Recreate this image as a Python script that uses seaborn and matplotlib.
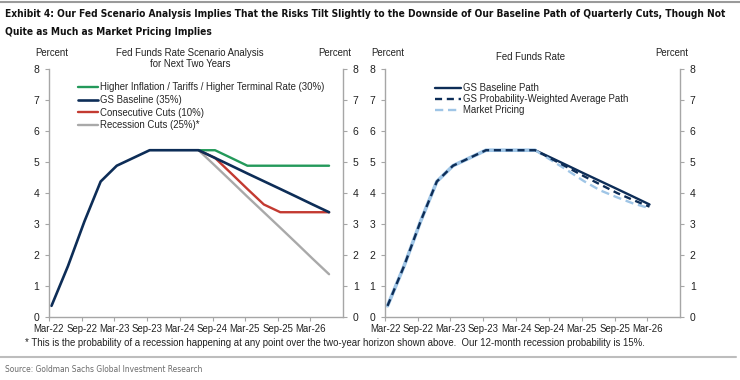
import numpy as np
import pandas as pd
import matplotlib
matplotlib.use("Agg")
import matplotlib.pyplot as plt
import matplotlib.font_manager as fm
import seaborn as sns

# ---------------- data ----------------
quarters = ['Mar-22', 'Jun-22', 'Sep-22', 'Dec-22', 'Mar-23', 'Jun-23', 'Sep-23', 'Dec-23',
            'Mar-24', 'Jun-24', 'Sep-24', 'Dec-24', 'Mar-25', 'Jun-25', 'Sep-25', 'Dec-25',
            'Mar-26', 'Jun-26']
history = [0.36, 1.64, 3.08, 4.37, 4.88, 5.13, 5.38, 5.38, 5.38, 5.38]

# left panel scenarios (start at Jun-24)
higher_inflation = [5.38, 5.38, 5.13, 4.88, 4.88, 4.88, 4.88, 4.88, 4.88]
gs_baseline      = [5.38, 5.13, 4.88, 4.63, 4.38, 4.13, 3.88, 3.63, 3.38]
consecutive_cuts = [5.38, 5.13, 4.63, 4.13, 3.63, 3.38, 3.38, 3.38, 3.38]
recession_cuts   = [5.38, 4.88, 4.38, 3.88, 3.38, 2.88, 2.38, 1.88, 1.38]

# right panel forward paths (Sep-24 .. Mar-26)
baseline_path = [5.13, 4.88, 4.63, 4.38, 4.13, 3.88, 3.63]
weighted_path = [5.10, 4.82, 4.54, 4.27, 4.00, 3.77, 3.56]
market_path   = [5.05, 4.72, 4.38, 4.08, 3.86, 3.66, 3.51]

left_labels = ['Higher Inflation / Tariffs / Higher Terminal Rate (30%)', 'GS Baseline (35%)',
               'Consecutive Cuts (10%)', 'Recession Cuts (25%)*']
right_labels = ['GS Baseline Path', 'GS Probability-Weighted Average Path', 'Market Pricing']
tick_labels = ['Mar-22', 'Sep-22', 'Mar-23', 'Sep-23', 'Mar-24', 'Sep-24', 'Mar-25', 'Sep-25', 'Mar-26']
y_ticks = [0, 1, 2, 3, 4, 5, 6, 7, 8]

# ---------------- style ----------------
sns.set_theme(style="white")
plt.rcParams['font.family'] = ['Liberation Sans', 'DejaVu Sans']
FS = 6.9
GREEN = '#23995a'
NAVY = '#0d2d57'
RED = '#c33a31'
GRAY = '#a9a9a9'
LBLUE = '#9fc5e6'
AXC = '#a6a6a6'


def is_cond(f):
    nm = f.name
    return (('Narrow' in nm or 'Condensed' in nm or f.stretch in ('condensed', 'semi-condensed'))
            and 'Mono' not in nm and 'Serif' not in nm)


def upright(f):
    fn = f.fname.lower()
    return f.style == 'normal' and 'italic' not in fn and 'oblique' not in fn


def wnum(w):
    if isinstance(w, int):
        return w
    return {'bold': 700, 'normal': 400, 'regular': 400, 'light': 300, 'medium': 500,
            'semibold': 600, 'demibold': 600, 'heavy': 800, 'black': 900}.get(str(w).lower(), 400)


cands = sorted([f for f in fm.fontManager.ttflist if is_cond(f) and upright(f)], key=lambda f: f.fname)
bold_c = [f for f in cands if wnum(f.weight) >= 700]
reg_c = [f for f in cands if 300 <= wnum(f.weight) < 600]
title_prop = fm.FontProperties(fname=bold_c[0].fname) if bold_c else None
src_prop = fm.FontProperties(fname=reg_c[0].fname) if reg_c else None

W, H = 740, 380
fig = plt.figure(figsize=(W / 100, H / 100), dpi=100)


def fx(x):
    return x / W


def fy(y):
    return 1 - y / H


dates = pd.to_datetime(['15-' + q for q in quarters], format='%d-%b-%y')
tick_dates = pd.to_datetime(['01-' + t for t in tick_labels], format='%d-%b-%y')
x0 = pd.Timestamp('2022-03-01')
x1 = pd.Timestamp('2026-09-01')


def make_ax(left_px, right_px):
    return fig.add_axes([fx(left_px), fy(317), (right_px - left_px) / W, (317 - 69) / H])


def style_ax(ax):
    ax.set_xlim(x0, x1)
    ax.set_ylim(0, 8)
    ax.set_yticks(y_ticks)
    ax.set_xticks(tick_dates)
    ax.set_xticklabels(tick_labels, fontsize=FS, color='#222222')
    ax.tick_params(axis='x', length=3, color=AXC, width=0.8, pad=2, direction='out', bottom=True)
    ax.tick_params(axis='y', length=3, color=AXC, width=0.8, pad=4, labelsize=FS + 0.6,
                   labelcolor='#222222', left=True, right=True, labelleft=True, labelright=True,
                   direction='out')
    for s in ['left', 'right', 'bottom']:
        ax.spines[s].set_color(AXC)
        ax.spines[s].set_linewidth(1.0)
    ax.spines['top'].set_visible(False)
    ax.set_xlabel('')
    ax.set_ylabel('')
    ax.grid(False)


# ---------------- left panel ----------------
axL = make_ax(49, 343)
n_hist = len(history)
scen_dates = dates[n_hist - 1:n_hist - 1 + len(gs_baseline)]
base_full = history[:-1] + gs_baseline

lw = 1.7
sns.lineplot(x=scen_dates, y=recession_cuts, ax=axL, color=GRAY, lw=lw, label=left_labels[3])
sns.lineplot(x=scen_dates, y=consecutive_cuts, ax=axL, color=RED, lw=lw, label=left_labels[2])
sns.lineplot(x=scen_dates, y=higher_inflation, ax=axL, color=GREEN, lw=lw, label=left_labels[0])
sns.lineplot(x=dates[:len(base_full)], y=base_full, ax=axL, color=NAVY, lw=lw + 0.2, label=left_labels[1])
style_ax(axL)
h, l = axL.get_legend_handles_labels()
order = [l.index(t) for t in left_labels]
axL.legend([h[i] for i in order], [l[i] for i in order], loc='upper left',
           bbox_to_anchor=(fx(78), fy(82.5)), bbox_transform=fig.transFigure, frameon=False,
           fontsize=FS, handlelength=2.1, handletextpad=0.2, labelspacing=0.27,
           borderaxespad=0, borderpad=0)

# ---------------- right panel ----------------
axR = make_ax(385, 680)
fwd_start = n_hist - 1
hist_dates = dates[:n_hist]
fwd_dates = dates[fwd_start:fwd_start + len(baseline_path) + 1]
market_full = history + market_path
weighted_full = history + weighted_path
baseline_full_r = history + baseline_path

sns.lineplot(x=fwd_dates, y=baseline_full_r[fwd_start:], ax=axR, color=NAVY, lw=1.7, label=right_labels[0])
sns.lineplot(x=hist_dates, y=market_full[:n_hist], ax=axR, color=LBLUE, lw=2.6)
sns.lineplot(x=fwd_dates, y=market_full[fwd_start:], ax=axR, color=LBLUE, lw=1.7,
             label=right_labels[2])
sns.lineplot(x=dates[:len(weighted_full)], y=weighted_full, ax=axR, color=NAVY, lw=1.7,
             label=right_labels[1])
for line in axR.get_lines():
    if line.get_label() == right_labels[2]:
        line.set_dashes([3.5, 2])
    if line.get_label() == right_labels[1]:
        line.set_dashes([3, 2])
style_ax(axR)
h, l = axR.get_legend_handles_labels()
order = [l.index(t) for t in right_labels]
axR.legend([h[i] for i in order], [l[i] for i in order], loc='upper left',
           bbox_to_anchor=(fx(435), fy(83)), bbox_transform=fig.transFigure, frameon=False,
           fontsize=FS, handlelength=2.7, handletextpad=0.25, labelspacing=0.12,
           borderaxespad=0, borderpad=0)

# ---------------- texts ----------------
title1 = ('Exhibit 4: Our Fed Scenario Analysis Implies That the Risks Tilt Slightly to the '
          'Downside of Our Baseline Path of Quarterly Cuts, Though Not')
title2 = 'Quite as Much as Market Pricing Implies'
if title_prop is not None:
    tkw = dict(fontproperties=title_prop)
else:
    tkw = dict(family=['Liberation Sans', 'DejaVu Sans'], fontweight='bold')
t1 = fig.text(fx(5), fy(14), title1, va='center', ha='left', color='#111111', **tkw)
t2 = fig.text(fx(5), fy(32), title2, va='center', ha='left', color='#111111', **tkw)
t1.set_fontsize(10.0)
t2.set_fontsize(10.0)
fig.canvas.draw()
r = fig.canvas.get_renderer()
wt = t1.get_window_extent(renderer=r).width
new_fs = 10.0 * 719.0 / wt
t1.set_fontsize(new_fs)
t2.set_fontsize(new_fs)
fig.add_artist(plt.Line2D([0, 1], [fy(1.5), fy(1.5)], color='#9a9a9a', lw=1.5))

for xc in [52, 335, 388, 672]:
    fig.text(fx(xc), fy(53), 'Percent', fontsize=FS, ha='center', va='center', color='#222222')
fig.text(fx(190), fy(53), 'Fed Funds Rate Scenario Analysis', fontsize=FS, ha='center', va='center',
         color='#222222')
fig.text(fx(190), fy(64), 'for Next Two Years', fontsize=FS, ha='center', va='center', color='#222222')
fig.text(fx(530), fy(57), 'Fed Funds Rate', fontsize=FS, ha='center', va='center', color='#222222')

fig.text(fx(25), fy(343), '* This is the probability of a recession happening at any point over the two-year '
         'horizon shown above.  Our 12-month recession probability is 15%.', fontsize=FS,
         ha='left', va='center', color='#222222')
fig.add_artist(plt.Line2D([0, fx(736)], [fy(357), fy(357)], color='#bdbdbd', lw=1.5))
skw = dict(fontproperties=src_prop) if src_prop is not None else dict(family=['Liberation Sans'])
ts = fig.text(fx(5), fy(369), 'Source: Goldman Sachs Global Investment Research', ha='left',
              va='center', color='#6b6b6b', **skw)
ts.set_fontsize(7.0)
fig.canvas.draw()
ws = ts.get_window_extent(renderer=r).width
ts.set_fontsize(7.0 * 200.0 / ws)

fig.savefig('out.png', dpi=100)
